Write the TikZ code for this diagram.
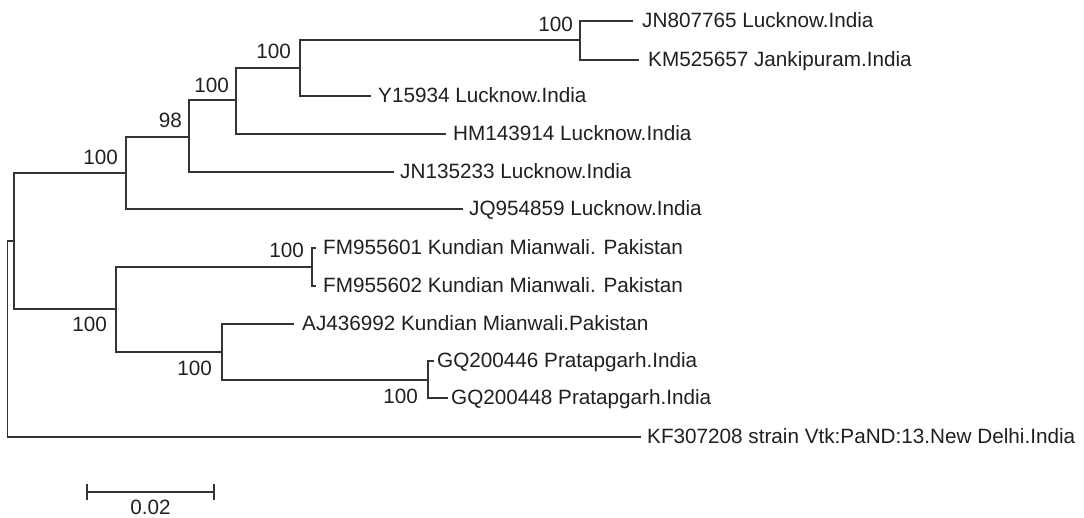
\documentclass[tikz,border=0pt]{standalone}
\usepackage{fontspec}
\setmainfont{Liberation Sans}
\definecolor{ink}{HTML}{231F20}
\definecolor{branch}{HTML}{333333}
\begin{document}
\begin{tikzpicture}[x=1pt,y=-1pt,
  edge/.style={draw=branch,line width=1.3pt,line cap=rect},
  leaflab/.style={anchor=base west,inner sep=0pt,text=ink,font=\fontsize{20.7}{24}\selectfont},
  boot/.style={anchor=base east,inner sep=0pt,text=ink,font=\fontsize{20.7}{24}\selectfont},
  scalelab/.style={anchor=base,inner sep=0pt,text=ink,font=\fontsize{20.7}{24}\selectfont}]
\useasboundingbox[fill=white] (0,0) rectangle (1084,518);
% internal nodes
\coordinate (R) at (7.5,300);
\coordinate (B) at (14,241);
\coordinate (C) at (126,173);
\coordinate (D) at (189,137);
\coordinate (E) at (236,100);
\coordinate (F) at (300,68);
\coordinate (G) at (580,40);
\coordinate (I) at (116,309);
\coordinate (J) at (312,267);
\coordinate (K) at (222,352);
\coordinate (L) at (428,380);
% leaf tips
\coordinate (t1) at (632,21);
\coordinate (t2) at (638,60);
\coordinate (t3) at (370,96);
\coordinate (t4) at (445,134);
\coordinate (t5) at (393,172);
\coordinate (t6) at (462,209);
\coordinate (t7) at (315,248);
\coordinate (t8) at (315,286);
\coordinate (t9) at (293,324);
\coordinate (t10) at (433,361);
\coordinate (t11) at (447,398);
\coordinate (t12) at (640,437);
% leaf labels
\node[leaflab] (l1) at (642,27.5) {JN807765 Lucknow.India};
\node[leaflab] (l2) at (648,66.5) {KM525657 Jankipuram.India};
\node[leaflab] (l3) at (378,102.5) {Y15934 Lucknow.India};
\node[leaflab] (l4) at (453,140.5) {HM143914 Lucknow.India};
\node[leaflab] (l5) at (400,178.5) {JN135233 Lucknow.India};
\node[leaflab] (l6) at (469,215.5) {JQ954859 Lucknow.India};
\node[leaflab] (l7) at (323,254.5) {FM955601 Kundian Mianwali. Pakistan};
\node[leaflab] (l8) at (323,292.5) {FM955602 Kundian Mianwali. Pakistan};
\node[leaflab] (l9) at (302,330.5) {AJ436992 Kundian Mianwali.Pakistan};
\node[leaflab] (l10) at (437,367.5) {GQ200446 Pratapgarh.India};
\node[leaflab] (l11) at (451,404.5) {GQ200448 Pratapgarh.India};
\node[leaflab] (l12) at (647,443.5) {KF307208 strain Vtk:PaND:13.New Delhi.India};
% branches
\draw[edge] (B) -| (R) |- (t12);
\draw[edge] (C) -| (B) |- (I);
\draw[edge] (D) -| (C) |- (t6);
\draw[edge] (E) -| (D) |- (t5);
\draw[edge] (F) -| (E) |- (t4);
\draw[edge] (G) -| (F) |- (t3);
\draw[edge] (t1) -| (G) |- (t2);
\draw[edge] (J) -| (I) |- (K);
\draw[edge] (t7) -| (J) |- (t8);
\draw[edge] (t9) -| (K) |- (L);
\draw[edge] (t10) -| (L) |- (t11);
% bootstrap values
\node[boot] (bG) at (573,32) {100};
\node[boot] (bF) at (291,59) {100};
\node[boot] (bE) at (229,93) {100};
\node[boot] (bD) at (182,128) {98};
\node[boot] (bC) at (118,165) {100};
\node[boot] (bJ) at (304,258) {100};
\node[boot] (bI) at (107,332) {100};
\node[boot] (bK) at (212,375) {100};
\node[boot] (bL) at (418,403) {100};
% scale bar
\coordinate (s1) at (87,492);
\coordinate (s2) at (214,492);
\draw[edge,line cap=butt] (s1) -- (s2);
\draw[edge,line cap=butt] ([yshift=-8pt]s1) -- ([yshift=8pt]s1);
\draw[edge,line cap=butt] ([yshift=-8pt]s2) -- ([yshift=8pt]s2);
\node[scalelab] (sl) at (150.5,514.5) {0.02};
\end{tikzpicture}
\end{document}
